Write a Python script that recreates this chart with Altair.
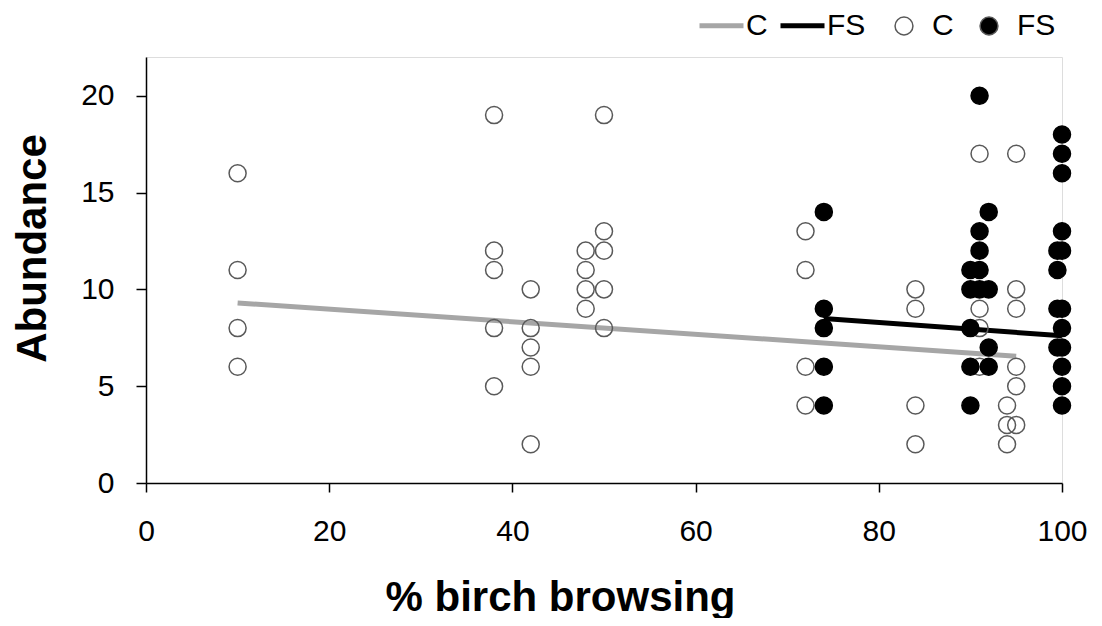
import altair as alt
import pandas as pd

# Open circles (C)
c_x = [10, 10, 10, 10,
       38, 38, 38, 38, 38,
       42, 42, 42, 42, 42,
       48, 48, 48, 48,
       50, 50, 50, 50, 50,
       72, 72, 72, 72,
       84, 84, 84, 84,
       91, 91, 91, 91,
       94, 94, 94,
       95, 95, 95, 95, 95, 95]
c_y = [16, 11, 8, 6,
       19, 12, 11, 8, 5,
       10, 8, 7, 6, 2,
       12, 11, 10, 9,
       19, 13, 12, 10, 8,
       13, 11, 6, 4,
       10, 9, 4, 2,
       17, 9, 8, 6,
       4, 3, 2,
       17, 10, 9, 6, 5, 3]

# Filled circles (FS)
fs_x = [74, 74, 74, 74, 74,
        90, 90, 90, 90, 90,
        91, 91, 91, 91, 91,
        92, 92, 92, 92,
        99.5, 99.5, 99.5, 99.5,
        100, 100, 100, 100, 100, 100, 100, 100, 100, 100, 100]
fs_y = [14, 9, 8, 6, 4,
        11, 10, 8, 6, 4,
        20, 13, 12, 11, 10,
        14, 10, 7, 6,
        12, 11, 9, 7,
        18, 17, 16, 13, 12, 9, 8, 7, 6, 5, 4]

# Trend lines
line_group = ["C line", "C line", "FS line", "FS line"]
line_x = [10, 95, 74, 100]
line_y = [9.3, 6.55, 8.5, 7.6]

x_ticks = [0, 20, 40, 60, 80, 100]
y_ticks = [0, 5, 10, 15, 20]

FONT = "Liberation Sans"

pts = pd.DataFrame({
    "x": c_x + fs_x,
    "y": c_y + fs_y,
    "series": ["C"] * len(c_x) + ["FS"] * len(fs_x),
})
lines_df = pd.DataFrame({"x": line_x, "y": line_y, "trend": line_group})

x_enc = alt.X("x:Q",
              scale=alt.Scale(domain=[0, 100], nice=False),
              axis=alt.Axis(values=x_ticks, title="% birch browsing", grid=False,
                            labelFontSize=30, labelFont=FONT, labelColor="black",
                            labelFlush=False,
                            tickSize=9, tickColor="black", tickWidth=1.5,
                            domainColor="black", domainWidth=1.5, labelPadding=24,
                            titleFont=FONT, titleFontSize=42, titleFontWeight="bold",
                            titleColor="black", titleX=414, titleY=127,
                            titleBaseline="alphabetic", titleAlign="center"))
y_enc = alt.Y("y:Q",
              scale=alt.Scale(domain=[0, 22], nice=False),
              axis=alt.Axis(values=y_ticks, title="Abundance", grid=False,
                            labelFontSize=30, labelFont=FONT, labelColor="black",
                            labelFlush=False,
                            tickSize=10, tickColor="black", tickWidth=1.5,
                            domainColor="black", domainWidth=1.5, labelPadding=22,
                            titleFont=FONT, titleFontSize=42, titleFontWeight="bold",
                            titleColor="black", titleX=-101, titleY=191, titleAngle=270,
                            titleBaseline="alphabetic", titleAlign="center"))

lines = alt.Chart(lines_df).mark_line(strokeWidth=5).encode(
    x=x_enc,
    y=y_enc,
    color=alt.Color("trend:N",
                    scale=alt.Scale(domain=["C line", "FS line"], range=["#A6A6A6", "#000000"]),
                    legend=alt.Legend(title=None, orient="none", legendX=551, legendY=-56,
                                      direction="horizontal", symbolType="stroke",
                                      symbolSize=1936, symbolStrokeWidth=5,
                                      labelExpr="replace(datum.label, ' line', '')",
                                      labelFontSize=30, labelFont=FONT, labelColor="black",
                                      labelOffset=0, columnPadding=2, padding=0)),
)

points = alt.Chart(pts).mark_circle(size=290, strokeWidth=1.5, opacity=1).encode(
    x=x_enc,
    y=y_enc,
    fill=alt.Fill("series:N",
                  scale=alt.Scale(domain=["C", "FS"], range=["transparent", "#000000"]),
                  legend=alt.Legend(title=None, orient="none", legendX=743, legendY=-46,
                                    direction="horizontal", symbolType="circle",
                                    symbolSize=320, symbolStrokeColor="#595959",
                                    symbolStrokeWidth=1.5,
                                    labelFontSize=30, labelFont=FONT, labelColor="black",
                                    labelOffset=13, columnPadding=20, padding=0)),
    stroke=alt.condition("datum.series == 'FS'", alt.value("#000000"), alt.value("#595959")),
)

chart = alt.layer(lines, points).properties(
    width=916, height=426,
    padding={"left": 138, "top": 49, "right": 30, "bottom": 135},
    autosize=alt.AutoSizeParams(type="none"),
).configure_view(stroke=None).configure(background="white")

chart.save("out.html", embed_options={"renderer": "svg", "actions": False})
